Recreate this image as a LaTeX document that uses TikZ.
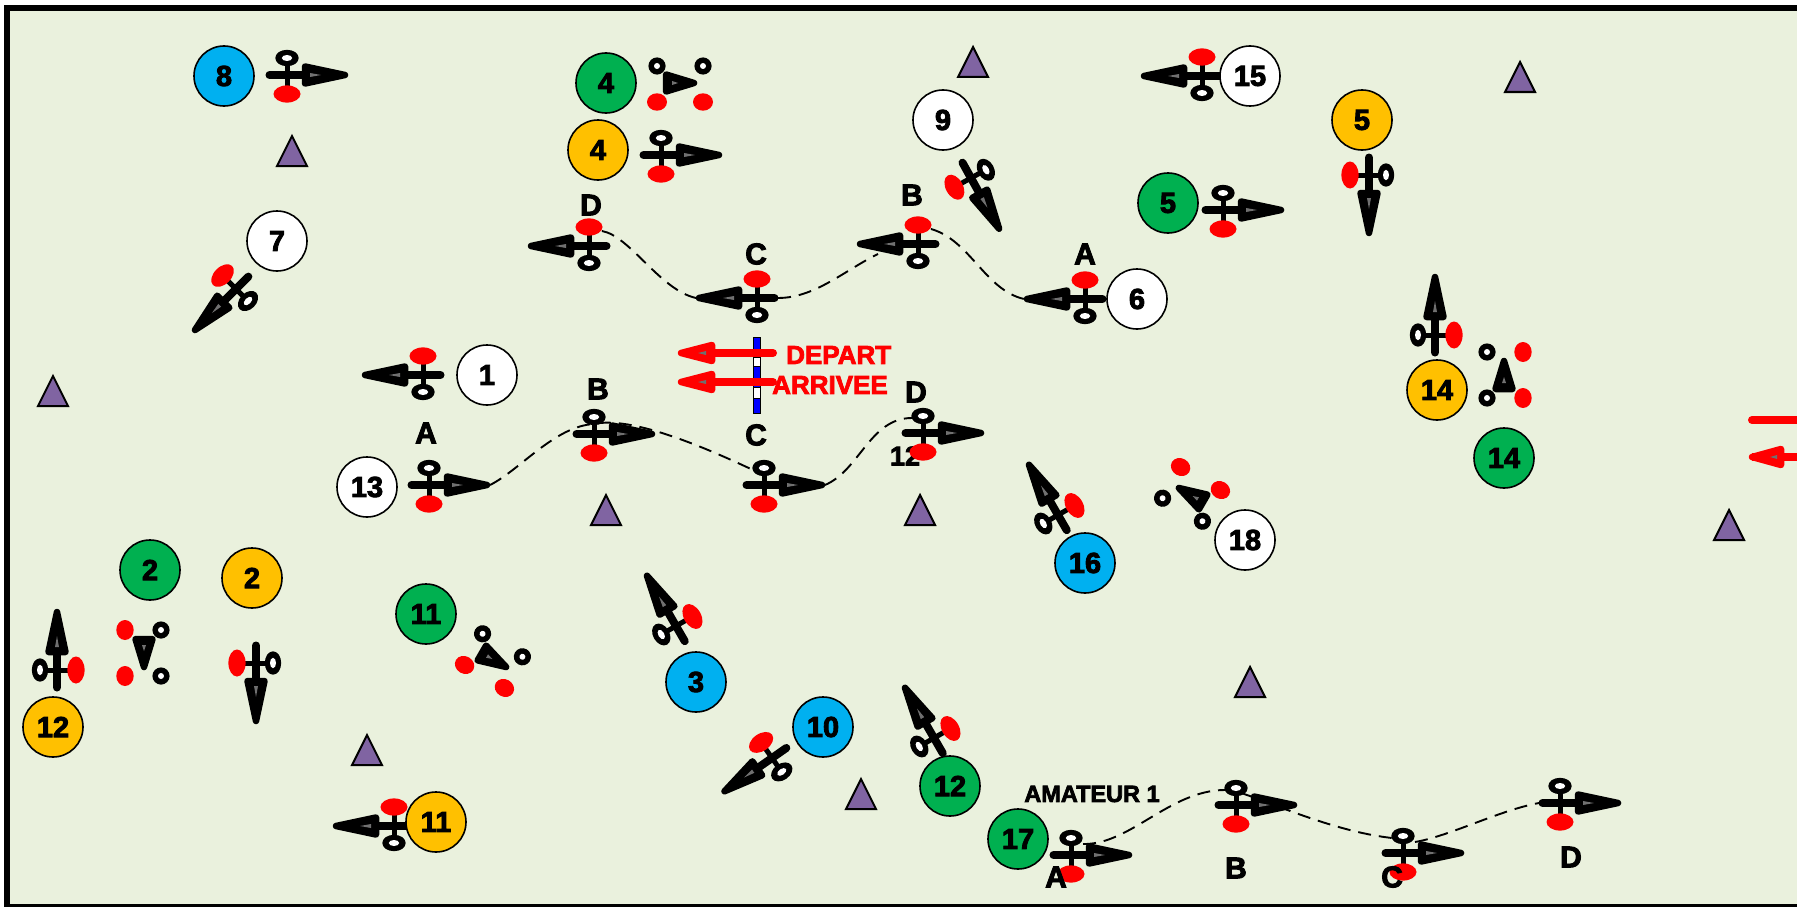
\documentclass[tikz,border=0pt]{standalone}
\usepackage{fontspec}
\setmainfont{Liberation Sans}
\newfontfamily\heavy{Liberation Sans}[UprightFont=* Bold,FakeBold=3]
\definecolor{fieldc}{HTML}{EAF1DD}
\definecolor{greenc}{HTML}{00B050}
\definecolor{orangec}{HTML}{FFC000}
\definecolor{bluec}{HTML}{00B0F0}
\definecolor{purplec}{HTML}{8064A2}
\definecolor{sliver}{HTML}{707070}
\tikzset{
  num/.style={circle,draw=black,line width=1.6pt,minimum size=60pt,inner sep=0pt,font=\heavy\fontsize{29}{29}\selectfont},
  wnum/.style={num,fill=white},
  gnum/.style={num,fill=greenc},
  onum/.style={num,fill=orangec},
  bnum/.style={num,fill=bluec},
  letter/.style={inner sep=0pt,font=\heavy\fontsize{30}{30}\selectfont},
  redtext/.style={inner sep=0pt,text=red,font=\heavy\fontsize{26}{26}\selectfont},
  hull/.style={line width=6.5pt,line join=round,fill=black,draw=black},
  track/.style={line width=1.9pt,dash pattern=on 13pt off 8pt},
}
\newcommand{\buoy}[3]{\draw[line width=2pt,fill=purplec,line join=miter] (#2,#3) coordinate (#1) -- ++(-15,30) -- ++(30,0) -- cycle;}
\newcommand{\bigboat}[4]{%
  \begin{scope}[shift={(#2,#3)},rotate=#4]
    \coordinate (#1) at (0,0);
    \coordinate (#1t) at (61,0);
    \coordinate (#1b) at (-21,0);
    \coordinate (#1r) at (-11,-15);
    \coordinate (#1q) at (12,-11);
    \coordinate (#1m) at (-13,15);
    \coordinate (#1h) at (40,-10);
    \coordinate (#1p) at (0,-10);
    \draw[line width=5pt] (0,-17) -- (0,19);
    \fill[red] (0,19) ellipse [x radius=13.5pt,y radius=8.6pt];
    \fill[black] (0,-17) ellipse [x radius=11.7pt,y radius=8.2pt];
    \fill[white] (0,-17) ellipse [x radius=5.2pt,y radius=3pt];
    \draw[line width=8pt,line cap=round] (-17.5,0) -- (20,0);
    \draw[hull] (18,-8.5) -- (18,8.5) -- (58,0) -- cycle;
    \fill[sliver] (23,-2) -- (23,2) -- (34,0) -- cycle;
  \end{scope}}
\newcommand{\startmark}[4]{%
  \begin{scope}[shift={(#2,#3)},rotate=#4]
    \coordinate (#1) at (0,0);
    \fill[red] (-23,19) ellipse [x radius=10pt,y radius=8.7pt];
    \fill[red] (23,19) ellipse [x radius=10pt,y radius=8.7pt];
    \fill[black] (-23,-17) circle [radius=8.6pt];
    \fill[white] (-23,-17) circle [radius=3pt];
    \fill[black] (23,-17) circle [radius=8.6pt];
    \fill[white] (23,-17) circle [radius=3pt];
    \draw[hull] (-14,-8.5) -- (-14,8.5) -- (14,0) -- cycle;
    \fill[sliver] (-8,-2) -- (-8,2) -- (-2,0) -- cycle;
  \end{scope}}
\begin{document}
\begin{tikzpicture}[x=1pt,y=-1pt]
\useasboundingbox (0,0) rectangle (1797,907);
\fill[white] (0,0) rectangle (1797,907);
\fill[fieldc] (10,11) rectangle (1797,904);
\fill[black] (4,5) rectangle (1797,11);
\fill[black] (4,5) rectangle (10,907);
\fill[black] (4,904) rectangle (1797,907);
% buoys
\buoy{m1}{973}{47}
\buoy{m2}{292}{136}
\buoy{m3}{1520}{62}
\buoy{m4}{53}{376}
\buoy{m5}{606}{495}
\buoy{m6}{920}{495}
\buoy{m7}{1729}{510}
\buoy{m8}{1250}{667}
\buoy{m9}{367}{735}
\buoy{m10}{861}{779}
% label under a hull
\node[inner sep=0pt,font=\heavy\fontsize{27}{27}\selectfont] (twelve) at (905,456) {12};
% boats
\bigboat{eight}{287}{75}{0}
\startmark{fourg}{680}{83}{0}
\bigboat{fouro}{661}{155}{0}
\bigboat{dT}{589}{246}{180}
\bigboat{cT}{757}{298}{180}
\bigboat{bT}{918}{244}{180}
\bigboat{aT}{1085}{299}{180}
\bigboat{fiveg}{1223}{210}{0}
\bigboat{fifteen}{1202}{76}{180}
\bigboat{fiveo}{1369}{175}{-90}
\bigboat{nine}{971}{178}{-61}
\bigboat{seven}{236}{289}{225}
\bigboat{one}{423}{375}{180}
\bigboat{aB}{429}{485}{0}
\bigboat{bB}{594}{434}{0}
\bigboat{cB}{764}{485}{0}
\bigboat{dB}{923}{433}{0}
\bigboat{fourteeno}{1435}{335}{90}
\startmark{fourteeng}{1504}{375}{90}
\startmark{eighteen}{1191}{495}{150}
\bigboat{sixteen}{1058}{515}{120}
\startmark{twog}{144}{653}{-90}
\bigboat{twoo}{256}{663}{-90}
\bigboat{twelveo}{57}{670}{90}
\startmark{eleveng}{494}{660}{-30}
\bigboat{three}{676}{626}{120}
\bigboat{twelveg}{934}{738}{120}
\bigboat{ten}{772}{758}{215}
\bigboat{eleveno}{394}{826}{180}
\bigboat{aA}{1071}{855}{0}
\bigboat{bA}{1236}{805}{0}
\bigboat{cA}{1403}{853}{0}
\bigboat{dA}{1560}{803}{0}
% tracks
\draw[track] (dTm) .. controls (630,236) and (660,290) .. (cTt);
\draw[track] (cTb) .. controls (815,298) and (845,270) .. (bTh);
\draw[track] (bTm) .. controls (970,240) and (985,290) .. (aTt);
\draw[track] (aBt) .. controls (520,470) and (555,426) .. (bBp) .. controls (630,416) and (700,445) .. (cBr);
\draw[track] (cBt) .. controls (860,470) and (870,418) .. (dBr);
\draw[track] (aAq) .. controls (1130,845) and (1170,790) .. (bAr) .. controls (1240,787) and (1320,830) .. (cAr);
\draw[track] (cAq) .. controls (1450,836) and (1500,810) .. (dAb);
% start flag line
\draw[line width=1pt,fill=blue] (753,337) rectangle (760,413);
\draw[line width=1pt,fill=white] (753,357) rectangle (760,366);
\draw[line width=1pt,fill=white] (753,387) rectangle (760,398);
% red arrows
\coordinate (depT) at (678,353);
\coordinate (depE) at (773,353);
\coordinate (arrT) at (678,382);
\coordinate (arrE) at (773,382);
\draw[red,line width=8pt,line cap=round] (depE) -- (705,353);
\draw[red,line width=6.5pt,line join=round,fill=red] (681,353) -- (712,345) -- (712,361) -- cycle;
\fill[sliver] (698,353) -- (706,351) -- (706,355) -- cycle;
\draw[red,line width=8pt,line cap=round] (arrE) -- (705,382);
\draw[red,line width=6.5pt,line join=round,fill=red] (681,382) -- (712,374) -- (712,390) -- cycle;
\fill[sliver] (698,382) -- (706,380) -- (706,384) -- cycle;
\coordinate (finA) at (1752,420);
\coordinate (finB) at (1800,420);
\draw[red,line width=8pt,line cap=round] (finA) -- (finB);
\coordinate (finC) at (1752,457);
\coordinate (finD) at (1800,457);
\draw[red,line width=8pt] (finC) -- (finD);
\draw[red,line width=6.5pt,line join=round,fill=red] (1752,457) -- (1781,449) -- (1781,465) -- cycle;
\fill[sliver] (1770,457) -- (1777,455) -- (1777,459) -- cycle;
\node[redtext,anchor=west] (depart) at (786,355) {DEPART};
\node[redtext,anchor=west] (arrivee) at (772,385) {ARRIVEE};
% numbered circles
\node[bnum] (n8) at (224,76) {8};
\node[gnum] (n4g) at (606,83) {4};
\node[onum] (n4o) at (598,150) {4};
\node[wnum] (n9) at (943,120) {9};
\node[wnum] (n15) at (1250,76) {15};
\node[onum] (n5o) at (1362,120) {5};
\node[gnum] (n5g) at (1168,203) {5};
\node[wnum] (n7) at (277,241) {7};
\node[wnum] (n6) at (1137,299) {6};
\node[wnum] (n1) at (487,375) {1};
\node[wnum] (n13) at (367,487) {13};
\node[onum] (n14o) at (1437,390) {14};
\node[gnum] (n14g) at (1504,458) {14};
\node[wnum] (n18) at (1245,540) {18};
\node[bnum] (n16) at (1085,563) {16};
\node[gnum] (n2g) at (150,570) {2};
\node[onum] (n2o) at (252,578) {2};
\node[gnum] (n11g) at (426,614) {11};
\node[bnum] (n3) at (696,682) {3};
\node[onum] (n12o) at (53,727) {12};
\node[bnum] (n10) at (823,727) {10};
\node[gnum] (n12g) at (950,786) {12};
\node[gnum] (n17) at (1018,839) {17};
\node[onum] (n11o) at (436,822) {11};
% letters
\node[letter] (lDT) at (591,205) {D};
\node[letter] (lCT) at (756,254) {C};
\node[letter] (lBT) at (912,195) {B};
\node[letter] (lAT) at (1085,254) {A};
\node[letter] (lAB) at (426,433) {A};
\node[letter] (lBB) at (598,389) {B};
\node[letter] (lCB) at (756,435) {C};
\node[letter] (lDB) at (916,392) {D};
\node[letter] (lAA) at (1056,877) {A};
\node[letter] (lBA) at (1236,868) {B};
\node[letter] (lCA) at (1392,877) {C};
\node[letter] (lDA) at (1571,857) {D};
\node[inner sep=0pt,font=\heavy\fontsize{23.5}{23.5}\selectfont] (amateur) at (1092,794) {AMATEUR 1};
\end{tikzpicture}
\end{document}
